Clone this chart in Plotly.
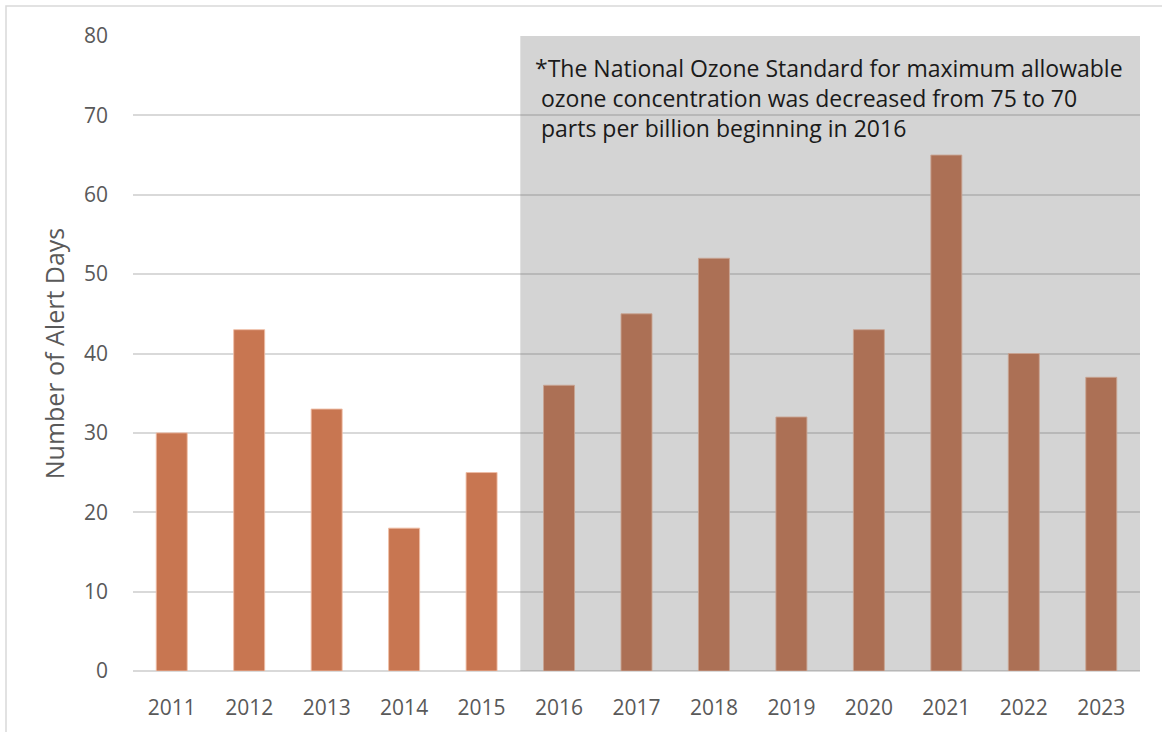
import plotly.graph_objects as go

years = ["2011", "2012", "2013", "2014", "2015", "2016", "2017", "2018", "2019", "2020", "2021", "2022", "2023"]
alert_days = [30, 43, 33, 18, 25, 36, 45, 52, 32, 43, 65, 40, 37]
y_ticks = [0, 10, 20, 30, 40, 50, 60, 70, 80]
note_text = ("*The National Ozone Standard for maximum allowable<br>"
             " ozone concentration was decreased from 75 to 70<br>"
             " parts per billion beginning in 2016")

W, H = 1162, 732
L, R, T, B = 133, 22, 36, 61
pw, ph = W - L - R, H - T - B

def px(x):
    return (x - L) / pw

def py(y):
    return (H - B - y) / ph

fig = go.Figure()
fig.add_trace(go.Bar(
    x=years, y=alert_days,
    marker=dict(color="#C87651", line=dict(color="rgba(240,190,165,0.9)", width=1)),
    width=0.4,
))

fig.add_shape(type="rect", xref="x", yref="y", x0=4.5, x1=12.5, y0=0, y1=80,
              fillcolor="rgba(97,97,97,0.27)", line=dict(width=0), layer="above")

fig.add_shape(type="rect", xref="paper", yref="paper",
              x0=px(6), x1=px(1180), y0=py(750), y1=py(6),
              fillcolor="rgba(0,0,0,0)", line=dict(color="#D9D9D9", width=1.5), layer="below")

fig.add_annotation(xref="paper", yref="paper", x=px(533), y=py(50),
                   xanchor="left", yanchor="top", align="left",
                   text=note_text, showarrow=False,
                   font=dict(family="Open Sans", size=23, color="#1a1a1a"))

fig.update_layout(
    width=W, height=H,
    margin=dict(l=L, r=R, t=T, b=B, pad=0),
    paper_bgcolor="white", plot_bgcolor="white",
    showlegend=False,
    bargap=0.6,
    font=dict(family="Open Sans", color="#595959"),
)
fig.update_xaxes(type="category", showgrid=False, showline=False, ticks="",
                 tickfont=dict(size=21, color="#595959"), ticklabelstandoff=22,
                 range=[-0.5, 12.5])
fig.update_yaxes(range=[0, 80], tickvals=y_ticks, showgrid=True, gridcolor="#D9D9D9",
                 gridwidth=1.5, zeroline=True, zerolinecolor="#D9D9D9", zerolinewidth=1.5,
                 showline=False, ticks="", tickfont=dict(size=21, color="#595959"),
                 ticklabelstandoff=24,
                 title=dict(text="Number of Alert Days", font=dict(size=25, color="#595959"), standoff=12))

fig.write_html("out.html")
